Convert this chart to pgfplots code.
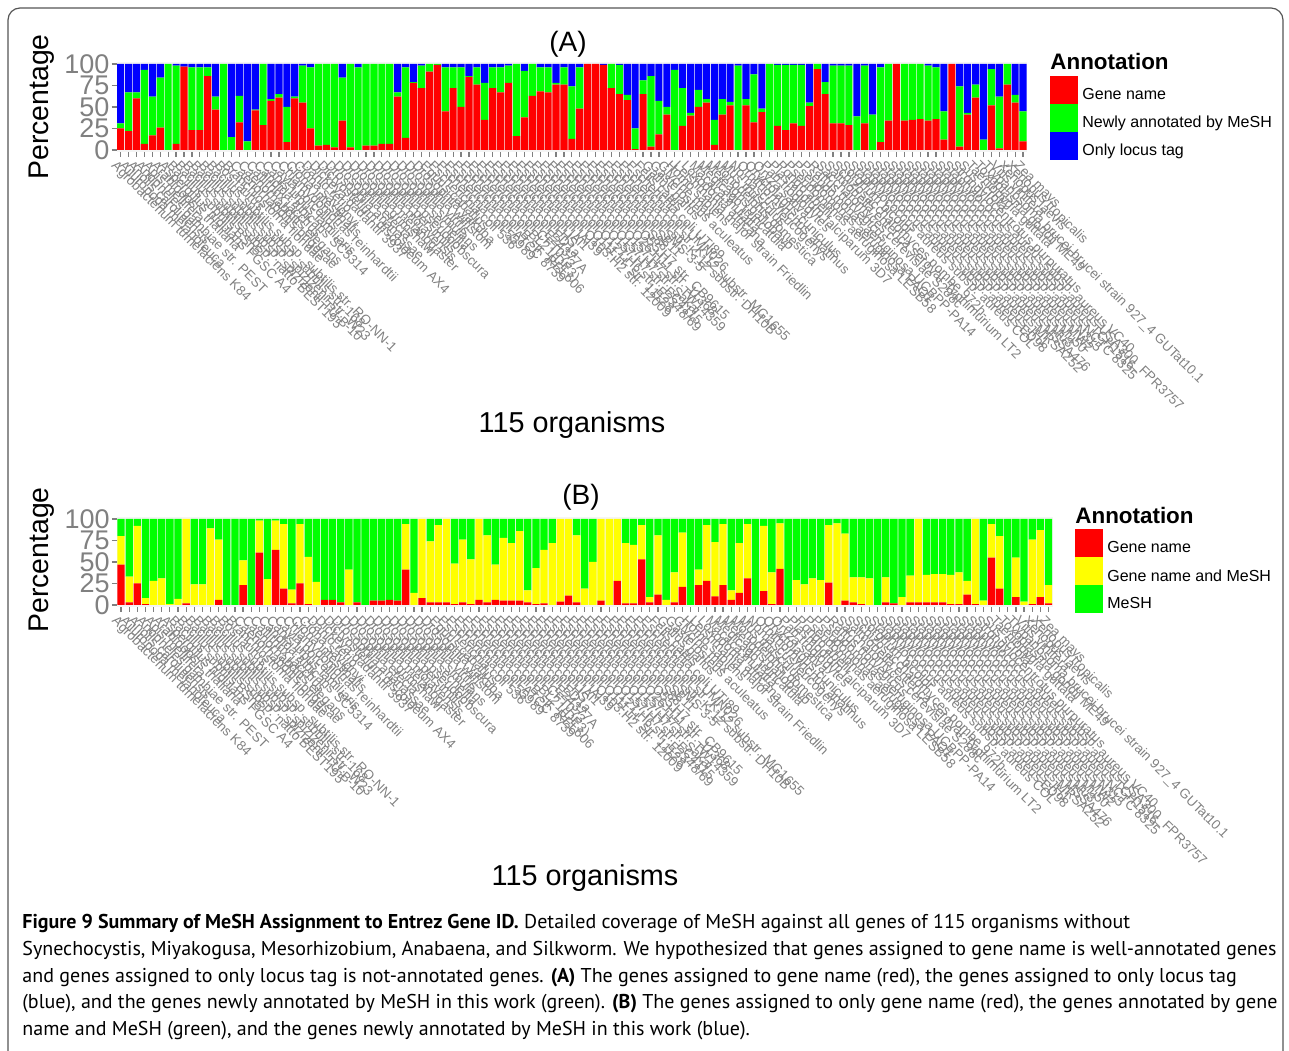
\documentclass[border=0pt]{standalone}
\usepackage{fontspec}
\setmainfont{Liberation Sans}
\newfontfamily\capfont{PT Sans}
\usepackage{pgfplots}
\usepackage{pgfplotstable}
\pgfplotsset{compat=1.18}

\definecolor{cred}{HTML}{FF0000}
\definecolor{cgreen}{HTML}{00FF00}
\definecolor{cblue}{HTML}{0000FF}
\definecolor{cyellow}{HTML}{FFFF00}
\definecolor{tickgrey}{HTML}{808080}
\definecolor{framegrey}{HTML}{555555}

\pgfplotstableread{
x r g b
1 25 6 69
2 22 45 33
3 60 7 33
4 7 86 7
5 17 45 38
6 26 58 16
7 0 100 0
8 7 91 2
9 97 0 3
10 23 73 4
11 23 73 4
12 86 10 4
13 47 15 38
14 0 100 0
15 0 15 85
16 32 31 37
17 0 10 90
18 46 1 53
19 29 71 0
20 57 2 41
21 61 4 35
22 9 41 50
23 60 2 38
24 55 43 2
25 25 71 4
26 5 95 0
27 6 94 0
28 3 97 0
29 34 50 16
30 3 97 0
31 0 96 4
32 5 95 0
33 5 95 0
34 7 93 0
35 7 93 0
36 62 5 33
37 14 82 4
38 78 1 21
39 72 26 2
40 91 9 0
41 99 1 0
42 45 51 4
43 72 24 4
44 50 46 4
45 85 1 14
46 76 20 4
47 35 43 22
48 72 24 4
49 67 29 4
50 78 20 2
51 16 84 0
52 38 54 8
53 63 37 0
54 68 28 4
55 67 29 4
56 76 2 22
57 76 20 4
58 13 61 26
59 48 48 4
60 100 0 0
61 100 0 0
62 99 0 1
63 72 28 0
64 65 34 1
65 58 6 36
66 1 24 75
67 65 16 19
68 4 82 14
69 18 39 43
70 41 9 50
71 0 93 7
72 28 44 28
73 40 3 57
74 50 20 30
75 55 4 41
76 6 29 65
77 41 18 41
78 52 4 44
79 0 98 2
80 52 7 41
81 32 56 12
82 44 4 52
83 0 100 0
84 28 71 1
85 23 76 1
86 31 68 1
87 28 71 1
88 51 4 45
89 94 6 0
90 65 14 21
91 31 67 2
92 31 67 2
93 29 69 2
94 0 39 61
95 31 67 2
96 0 41 59
97 9 87 4
98 34 66 0
99 100 0 0
100 34 66 0
101 35 65 0
102 36 64 0
103 34 64 2
104 36 60 4
105 12 33 55
106 100 0 0
107 4 70 26
108 41 2 57
109 61 15 24
110 0 12 88
111 52 42 6
112 2 60 38
113 76 24 0
114 55 9 36
115 10 35 55
}\dataA

\pgfplotstableread{
x r y g
1 47 33 20
2 3 30 67
3 25 67 8
4 1 7 92
5 0 28 72
6 0 31 69
7 0 1 99
8 0 7 93
9 2 98 0
10 0 24 76
11 0 24 76
12 0 89 11
13 6 70 24
14 0 0 100
15 0 0 100
16 23 29 48
17 0 0 100
18 61 37 2
19 0 30 70
20 64 34 2
21 19 75 6
22 2 16 82
23 25 69 6
24 1 55 44
25 0 27 73
26 6 0 94
27 6 0 94
28 3 0 97
29 0 41 59
30 3 0 97
31 0 0 100
32 5 0 95
33 5 0 95
34 6 0 94
35 5 0 95
36 41 53 6
37 0 14 86
38 8 92 0
39 3 71 26
40 3 90 7
41 3 97 0
42 1 47 52
43 3 73 24
44 1 52 47
45 6 94 0
46 3 78 19
47 6 41 53
48 5 73 22
49 5 67 28
50 5 81 14
51 3 14 83
52 1 42 57
53 2 62 36
54 0 72 28
55 4 96 0
56 11 89 0
57 3 78 19
58 0 19 81
59 0 50 50
60 5 95 0
61 0 100 0
62 28 72 0
63 2 70 28
64 2 68 30
65 53 40 7
66 3 6 91
67 12 69 19
68 0 6 94
69 3 35 62
70 21 63 16
71 0 0 100
72 23 18 59
73 28 65 7
74 10 63 27
75 23 71 6
76 6 11 83
77 14 58 28
78 31 63 6
79 0 0 100
80 16 76 8
81 1 37 62
82 42 53 5
83 0 0 100
84 0 29 71
85 0 24 76
86 0 31 69
87 0 29 71
88 26 67 7
89 0 95 5
90 5 78 17
91 3 29 68
92 1 31 68
93 0 31 69
94 0 0 100
95 3 29 68
96 2 0 98
97 0 9 91
98 3 31 66
99 3 97 0
100 3 32 65
101 3 33 64
102 3 33 64
103 1 34 65
104 1 37 62
105 12 16 72
106 1 99 0
107 0 5 95
108 55 39 6
109 19 61 20
110 0 0 100
111 9 46 45
112 0 4 96
113 1 75 24
114 9 78 13
115 2 21 77
}\dataB

\pgfplotsset{
  orgnames/.style={xticklabels={
{Agrobacterium tumefaciens K84},{Ailuropoda melanoleuca},{Anolis carolinensis},{Anopheles gambiae str. PEST},{Apis mellifera},{Arabidopsis thaliana},{Aspergillus nidulans FGSC A4},
{Bacillus subtilis BSn5},{Bacillus subtilis subsp. natto BEST195},{Bacillus subtilis subsp. spizizenii TU-B-10},{Bacillus subtilis subsp. spizizenii str. W23},{Bacillus subtilis subsp. subtilis str. 168},{Bacillus subtilis subsp. subtilis str. RO-NN-1},{Bos taurus},{Branchiostoma floridae},
{Caenorhabditis briggsae},{Caenorhabditis elegans},{Callithrix jacchus},{Candida albicans SC5314},{Canis lupus familiaris},{Cavia porcellus},{Chlamydomonas reinhardtii},{Ciona intestinalis},{Ciona savignyi},
{Danio rerio},{Dickeya dadantii 3937},{Dictyostelium discoideum AX4},{Drosophila ananassae},{Drosophila erecta},{Drosophila grimshawi},{Drosophila melanogaster},{Drosophila mojavensis},{Drosophila persimilis},{Drosophila pseudoobscura},{Drosophila sechellia},{Drosophila simulans},{Drosophila virilis},{Drosophila willistoni},{Drosophila yakuba},
{Equus caballus},{Escherichia coli 536},{Escherichia coli 55989},{Escherichia coli ATCC 8739},{Escherichia coli B str. REL606},{Escherichia coli BL21(DE3)},{Escherichia coli CFT073},{Escherichia coli E24377A},{Escherichia coli ED1a},{Escherichia coli HS},{Escherichia coli IAI1},{Escherichia coli IAI39},{Escherichia coli O103:H2 str. 12009},{Escherichia coli O111:H- str. 11128},{Escherichia coli O127:H6 str. E2348/69},{Escherichia coli O157:H7 str. EC4115},{Escherichia coli O157:H7 str. Sakai},{Escherichia coli O157:H7 str. TW14359},{Escherichia coli O26:H11 str. 11368},{Escherichia coli O55:H7 str. CB9615},{Escherichia coli S88},{Escherichia coli SE11},{Escherichia coli SMS-3-5},{Escherichia coli str. K-12 substr. DH10B},{Escherichia coli str. K-12 substr. MG1655},{Escherichia coli UMN026},{Escherichia coli UTI89},
{Felis catus},{Gallus gallus},{Gasterosteus aculeatus},{Glycine max},{Homo sapiens},{Leishmania major strain Friedlin},{Loxodonta africana},{Macaca mulatta},{Medicago truncatula},{Meleagris gallopavo},{Monodelphis domestica},{Mus musculus},{Nomascus leucogenys},{Ornithorhynchus anatinus},{Oryctolagus cuniculus},{Oryza sativa},
{Pan troglodytes},{Plasmodium falciparum 3D7},{Pongo abelii},{Pseudomonas aeruginosa LESB58},{Pseudomonas aeruginosa PAO1},{Pseudomonas aeruginosa UCBPP-PA14},{Rattus norvegicus},{Saccharomyces cerevisiae S288c},{Salmonella enterica serovar Typhimurium LT2},{Schizosaccharomyces pombe 972h-},{Sorghum bicolor},
{Staphylococcus aureus subsp. aureus COL},{Staphylococcus aureus subsp. aureus ED98},{Staphylococcus aureus subsp. aureus JH1},{Staphylococcus aureus subsp. aureus MRSA252},{Staphylococcus aureus subsp. aureus MSSA476},{Staphylococcus aureus subsp. aureus Mu3},{Staphylococcus aureus subsp. aureus Mu50},{Staphylococcus aureus subsp. aureus MW2},{Staphylococcus aureus subsp. aureus N315},{Staphylococcus aureus subsp. aureus NCTC 8325},{Staphylococcus aureus subsp. aureus TCH1516},{Staphylococcus aureus subsp. aureus USA300\_FPR3757},{Staphylococcus aureus subsp. aureus VC40},
{Strongylocentrotus purpuratus},{Sus scrofa},{Taeniopygia guttata},{Toxoplasma gondii ME49},{Trypanosoma brucei brucei strain 927\_4 GUTat10.1},{Vitis vinifera},{Xenopus laevis},{Xenopus tropicalis},{Zea mays}}},
  panel/.style={
    scale only axis, height=44.72pt,
    xmin=0.5, xmax=115.5, ymin=-2, ymax=102,
    ybar stacked, bar width=0.9,
    axis x line=bottom, axis y line=left,
    axis line style={draw=none},
    axis background/.style={fill=gray!9},
    xtick={1,...,115}, orgnames,
    ytick={0,25,50,75,100},
    tick align=outside, major tick length=2.5pt,
    tick style={draw=tickgrey, line width=0.6pt},
    /pgf/number format/assume math mode=true,
    yticklabel style={font=\fontsize{13.5}{13.5}\selectfont, text=tickgrey, inner sep=1pt},
    xticklabel style={rotate=-45, anchor=north west, font=\fontsize{6.7}{7}\selectfont, text=tickgrey, inner sep=0pt, yshift=-2pt},
    legend cell align=left,
    legend image code/.code={\path[#1,draw=none] (0pt,-4.3pt) rectangle (14pt,9.7pt);},
    legend style={draw=none, fill=none, inner sep=0pt, row sep=0pt,
      font=\fontsize{8}{9}\selectfont, nodes={inner sep=0pt},
      /tikz/every odd column/.append style={column sep=2pt}},
  }
}

\begin{document}
\begin{tikzpicture}
\useasboundingbox (0pt,0pt) rectangle (644.5pt,525pt);
\draw[framegrey, line width=0.6pt, rounded corners=6pt] (4pt,-20pt) rectangle (641.5pt,521pt);

% ---------- Panel A ----------
\begin{axis}[panel, width=455.15pt, at={(58.35pt,449.15pt)}, anchor=south west,
  legend style={at={(1.0253,0.856)}, anchor=north west}]
\addplot[fill=cred, draw=none] table[x=x, y=r] {\dataA};
\addlegendentry{Gene name}
\addplot[fill=cgreen, draw=none] table[x=x, y=g] {\dataA};
\addlegendentry{Newly annotated by MeSH}
\addplot[fill=cblue, draw=none] table[x=x, y=b] {\dataA};
\addlegendentry{Only locus tag}
\end{axis}

% ---------- Panel B ----------
\begin{axis}[panel, width=467.75pt, at={(58.5pt,221.65pt)}, anchor=south west,
  legend style={at={(1.024,0.868)}, anchor=north west}]
\addplot[fill=cred, draw=none] table[x=x, y=r] {\dataB};
\addlegendentry{Gene name}
\addplot[fill=cyellow, draw=none] table[x=x, y=y] {\dataB};
\addlegendentry{Gene name and MeSH}
\addplot[fill=cgreen, draw=none] table[x=x, y=g] {\dataB};
\addlegendentry{MeSH}
\end{axis}

% ---------- texts ----------
\node[font=\fontsize{14}{14}\selectfont] at (284pt,503pt) {(A)};
\node[font=\fontsize{14}{14}\selectfont] at (290.5pt,276.5pt) {(B)};
\node[rotate=90, font=\fontsize{14.2}{14.2}\selectfont] at (21pt,471.5pt) {Percentage};
\node[rotate=90, font=\fontsize{14.2}{14.2}\selectfont] at (21pt,245pt) {Percentage};
\node[font=\fontsize{14.4}{14.4}\selectfont] at (286pt,312.5pt) {115 organisms};
\node[font=\fontsize{14.4}{14.4}\selectfont] at (292.5pt,86pt) {115 organisms};
\node[anchor=west, inner sep=0pt, font=\bfseries\fontsize{11.2}{11.2}\selectfont] at (525pt,494pt) {Annotation};
\node[anchor=west, inner sep=0pt, font=\bfseries\fontsize{11.2}{11.2}\selectfont] at (537.5pt,267.5pt) {Annotation};

\node[anchor=north west, inner sep=0pt, align=left,
      font=\capfont\fontsize{10}{13.35}\selectfont] at (11pt,68pt)
{\textbf{Figure 9 Summary of MeSH Assignment to Entrez Gene ID.} Detailed coverage of MeSH against all genes of 115 organisms without\\
Synechocystis, Miyakogusa, Mesorhizobium, Anabaena, and Silkworm. We hypothesized that genes assigned to gene name is well-annotated genes\\
and genes assigned to only locus tag is not-annotated genes. \textbf{(A)} The genes assigned to gene name (red), the genes assigned to only locus tag\\
(blue), and the genes newly annotated by MeSH in this work (green). \textbf{(B)} The genes assigned to only gene name (red), the genes annotated by gene\\
name and MeSH (green), and the genes newly annotated by MeSH in this work (blue).};
\end{tikzpicture}
\end{document}
